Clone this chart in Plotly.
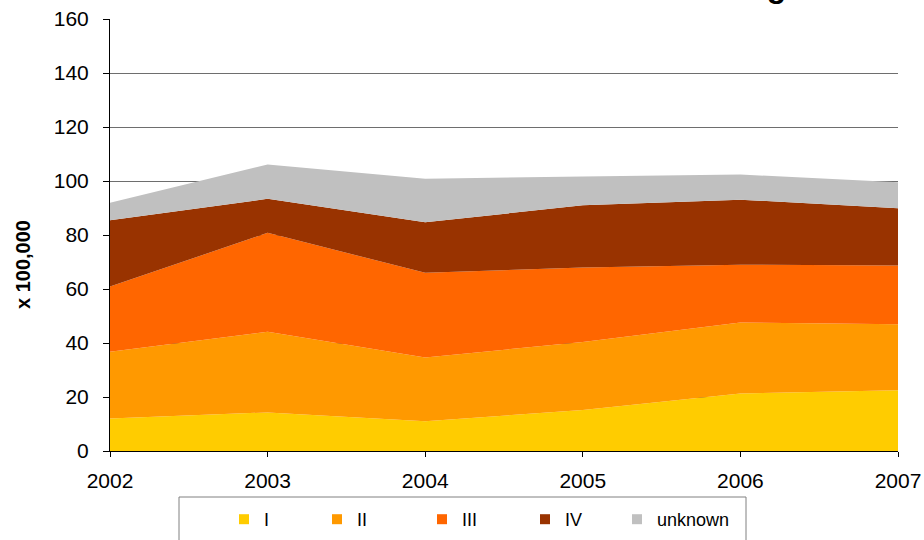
import plotly.graph_objects as go

years = [2002, 2003, 2004, 2005, 2006, 2007]
stage_names = ["I", "II", "III", "IV", "unknown"]
stage_I = [12.0, 14.3, 11.0, 15.2, 21.3, 22.5]
stage_II = [24.8, 29.9, 23.6, 25.2, 26.3, 24.4]
stage_III = [24.1, 36.6, 31.4, 27.6, 21.4, 21.8]
stage_IV = [24.6, 12.6, 18.7, 23.0, 24.1, 21.2]
stage_unknown = [6.4, 12.7, 16.1, 10.7, 9.3, 9.6]
colors = ["#FFCC00", "#FF9900", "#FF6600", "#993300", "#C0C0C0"]
y_ticks = [0, 20, 40, 60, 80, 100, 120, 140, 160]

series = [stage_I, stage_II, stage_III, stage_IV, stage_unknown]

W, H = 924, 540
ml, mr, mt, mb = 110, 26, 19, 89
pw, ph = W - ml - mr, H - mt - mb

def px(x):
    return (x - ml) / pw

def py(y):
    return (H - mb - y) / ph

legend_ids = ["legend", "legend2", "legend3", "legend4", "legend5"]
legend_square_centers = [248, 341, 446, 549, 641]

fig = go.Figure()
for name, vals, col in zip(stage_names, series, colors):
    fig.add_trace(go.Scatter(
        x=years, y=vals, name=name, stackgroup="one", mode="none",
        fillcolor=col, showlegend=False, hoverinfo="x+y+name"))
legend_layout = {}
for name, col, lid, cx in zip(stage_names, colors, legend_ids, legend_square_centers):
    fig.add_trace(go.Scatter(
        x=[None], y=[None], name=name, mode="markers", legend=lid,
        marker=dict(symbol="square", size=10, color=col), showlegend=True))
    legend_layout[lid] = dict(orientation="h", x=px(cx - 24), y=py(519.5),
                              xanchor="left", yanchor="middle",
                              bgcolor="rgba(0,0,0,0)", borderwidth=0,
                              font=dict(size=18), itemclick=False)

fig.update_layout(
    width=W, height=H,
    margin=dict(l=ml, r=mr, t=mt, b=mb, pad=0, autoexpand=False),
    paper_bgcolor="white", plot_bgcolor="white",
    font=dict(family="Liberation Sans, Arial, sans-serif", color="black", size=21),
    xaxis=dict(range=[2002, 2007], tickvals=years, ticktext=[str(y) for y in years],
               showgrid=False, zeroline=False, showline=True, linecolor="black",
               linewidth=1, ticks="outside", ticklen=5, tickcolor="black",
               tickfont=dict(size=21), ticklabelstandoff=6),
    yaxis=dict(range=[0, 160], tickvals=y_ticks, showgrid=True, gridcolor="#6e6e6e",
               gridwidth=1, zeroline=False, showline=True, linecolor="black",
               linewidth=1, ticks="outside", ticklen=6, tickcolor="black",
               tickfont=dict(size=21), ticklabelstandoff=10),
    shapes=[dict(type="rect", xref="paper", yref="paper", x0=px(179), x1=px(746),
                 y0=py(497), y1=py(560), line=dict(color="#808080", width=1),
                 fillcolor="white", layer="below")],
    annotations=[
        dict(text="Tumour stage", xref="paper", yref="paper", x=px(806), y=py(6),
             xanchor="right", yanchor="bottom", showarrow=False,
             font=dict(size=32, family="Liberation Sans, Arial", weight="bold", color="black")),
        dict(text="x 100,000", xref="paper", yref="paper", x=px(23), y=py(265),
             xanchor="center", yanchor="middle", textangle=-90, showarrow=False,
             font=dict(size=20, family="Liberation Sans, Arial", weight="bold", color="black")),
    ],
    **legend_layout,
)

fig.write_html("out.html", config={"displayModeBar": False},
               post_script="document.body.style.margin='0';")
